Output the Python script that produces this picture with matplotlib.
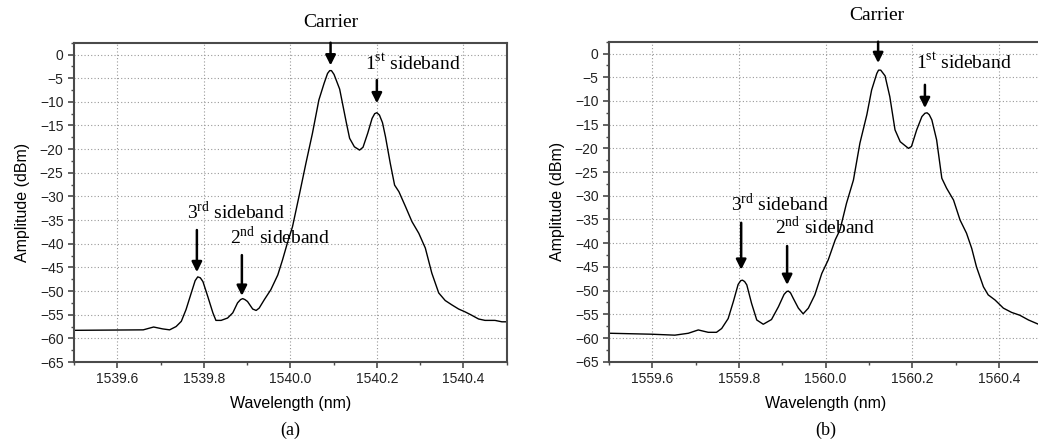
import matplotlib
matplotlib.use("Agg")
import matplotlib.pyplot as plt
from matplotlib.ticker import MultipleLocator, FormatStrFormatter

plt.rcParams["font.family"] = ["Liberation Sans", "DejaVu Sans"]
plt.rcParams["mathtext.fontset"] = "custom"
plt.rcParams["mathtext.rm"] = "Liberation Serif"

# (a) spectrum around 1540 nm
wl_a = [1539.500, 1539.660, 1539.684, 1539.705, 1539.721, 1539.736, 1539.748, 1539.759,
        1539.771, 1539.780, 1539.786, 1539.792, 1539.798, 1539.809, 1539.821, 1539.828,
        1539.840, 1539.855, 1539.867, 1539.878, 1539.885, 1539.890, 1539.895, 1539.901,
        1539.913, 1539.921, 1539.928, 1539.940, 1539.955, 1539.971, 1539.982, 1539.993,
        1540.005, 1540.020, 1540.036, 1540.051, 1540.066, 1540.078, 1540.086, 1540.091,
        1540.095, 1540.101, 1540.114, 1540.129, 1540.137, 1540.148, 1540.160, 1540.168,
        1540.179, 1540.189, 1540.195, 1540.200, 1540.206, 1540.213, 1540.220, 1540.231,
        1540.241, 1540.251, 1540.266, 1540.281, 1540.297, 1540.312, 1540.327, 1540.343,
        1540.358, 1540.373, 1540.389, 1540.404, 1540.419, 1540.435, 1540.450, 1540.473,
        1540.489, 1540.500]
amp_a = [-58.3, -58.2, -57.6, -58.0, -58.2, -57.5, -56.4, -53.9,
         -50.4, -47.8, -47.0, -47.2, -48.0, -51.1, -54.6, -56.2,
         -56.2, -55.7, -54.6, -52.5, -51.8, -51.6, -51.8, -52.2,
         -53.8, -54.1, -53.6, -51.8, -49.7, -46.6, -43.4, -39.9,
         -36.4, -30.0, -23.0, -16.7, -9.6, -6.1, -4.0, -3.4,
         -3.4, -4.2, -7.3, -14.2, -17.7, -19.5, -20.2, -19.6,
         -16.6, -13.5, -12.5, -12.3, -12.8, -14.4, -17.4, -23.0,
         -27.6, -29.0, -32.1, -35.3, -37.8, -40.9, -46.2, -50.4,
         -52.0, -52.9, -53.8, -54.4, -55.1, -55.9, -56.2, -56.2,
         -56.5, -56.5]

# (b) spectrum around 1560 nm
wl_b = [1559.502, 1559.598, 1559.652, 1559.683, 1559.706, 1559.729, 1559.748, 1559.760,
        1559.775, 1559.787, 1559.798, 1559.804, 1559.808, 1559.813, 1559.818, 1559.829,
        1559.841, 1559.856, 1559.875, 1559.891, 1559.904, 1559.910, 1559.914, 1559.919,
        1559.925, 1559.937, 1559.948, 1559.960, 1559.975, 1559.991, 1560.006, 1560.022,
        1560.033, 1560.048, 1560.064, 1560.079, 1560.095, 1560.106, 1560.118, 1560.122,
        1560.127, 1560.137, 1560.148, 1560.160, 1560.172, 1560.191, 1560.198, 1560.210,
        1560.222, 1560.229, 1560.234, 1560.239, 1560.245, 1560.256, 1560.268, 1560.279,
        1560.295, 1560.310, 1560.325, 1560.337, 1560.348, 1560.364, 1560.375, 1560.391,
        1560.410, 1560.429, 1560.448, 1560.468, 1560.491]
amp_b = [-59.0, -59.2, -59.4, -59.0, -58.3, -58.8, -58.8, -58.0,
         -55.9, -52.3, -48.7, -47.9, -47.8, -48.1, -48.8, -52.7,
         -56.2, -57.1, -56.1, -53.4, -50.8, -50.2, -50.1, -50.5,
         -51.6, -53.7, -54.9, -53.7, -50.9, -46.4, -43.5, -39.3,
         -37.2, -31.6, -26.7, -18.9, -12.9, -7.7, -4.2, -3.5,
         -3.5, -4.7, -9.1, -16.1, -18.6, -20.0, -19.6, -16.1,
         -13.3, -12.6, -12.5, -12.9, -14.0, -18.2, -26.3, -28.4,
         -30.9, -35.1, -37.9, -41.1, -45.0, -49.2, -50.9, -52.0,
         -53.7, -54.6, -55.2, -56.2, -57.1]

# annotations: (label, text x, text y, arrow x, arrow tail y, arrow tip y, align)
notes_a = [
    ("Carrier", 1540.093, 6.8, 1540.093, 2.5, -2.3, "center"),
    (r"1$^{\rm st}$ sideband", 1540.173, -1.8, 1540.200, -5.4, -10.3, "left"),
    (r"3$^{\rm rd}$ sideband", 1539.761, -33.3, 1539.784, -37.1, -46.0, "left"),
    (r"2$^{\rm nd}$ sideband", 1539.860, -38.6, 1539.888, -42.4, -51.0, "left"),
]
notes_b = [
    ("Carrier", 1560.118, 8.0, 1560.121, 2.5, -2.0, "center"),
    (r"1$^{\rm st}$ sideband", 1560.209, -1.8, 1560.229, -6.6, -11.5, "left"),
    (r"3$^{\rm rd}$ sideband", 1559.782, -31.7, 1559.805, -35.7, -45.6, "left"),
    (r"2$^{\rm nd}$ sideband", 1559.883, -36.6, 1559.911, -40.6, -48.8, "left"),
]

fig = plt.figure(figsize=(10.38, 4.43), dpi=100)
ax_a = fig.add_axes([0.0713, 0.1828, 0.4168, 0.7208])
ax_b = fig.add_axes([0.5867, 0.1835, 0.4175, 0.7224])


def draw_panel(ax, wl, amp, x0, notes, tag):
    ax.plot(wl, amp, color="black", linewidth=1.0)
    ax.set_xlim(x0, x0 + 1.0)
    ax.set_ylim(-65, 2.5)
    ax.xaxis.set_major_locator(MultipleLocator(0.2))
    ax.xaxis.set_minor_locator(MultipleLocator(0.1))
    ax.yaxis.set_major_locator(MultipleLocator(5))
    ax.yaxis.set_minor_locator(MultipleLocator(2.5))
    ax.xaxis.set_major_formatter(FormatStrFormatter("%.1f"))
    ax.grid(True, which="major", linestyle=(0, (1, 2)), color="#999999", linewidth=0.8)
    for s in ax.spines.values():
        s.set_color("#4a4a4a")
        s.set_linewidth(1.5)
    ax.tick_params(which="major", direction="out", length=4, width=1.2, color="#4a4a4a",
                   labelsize=10, labelcolor="#222222")
    ax.tick_params(which="minor", direction="out", length=2.5, width=1.0, color="#4a4a4a")
    ax.set_xlabel("Wavelength (nm)", fontsize=11.5, labelpad=7)
    ax.set_ylabel("Amplitude (dBm)", fontsize=11.5, labelpad=7)
    for label, tx, ty, axx, y0, y1, ha in notes:
        ax.text(tx, ty, label, ha=ha, va="center", fontsize=14,
                family="Liberation Serif", clip_on=False)
        ax.annotate("", xy=(axx, y1), xytext=(axx, y0), annotation_clip=False,
                    arrowprops=dict(arrowstyle="-|>,head_length=0.6,head_width=0.3",
                                    color="black", linewidth=1.8, shrinkA=0, shrinkB=0))
    ax.text(0.5, -0.215, tag, transform=ax.transAxes, ha="center", va="center",
            fontsize=13, family="Liberation Serif")


draw_panel(ax_a, wl_a, amp_a, 1539.5, notes_a, "(a)")
draw_panel(ax_b, wl_b, amp_b, 1559.5, notes_b, "(b)")

fig.savefig("out.png", dpi=100)
